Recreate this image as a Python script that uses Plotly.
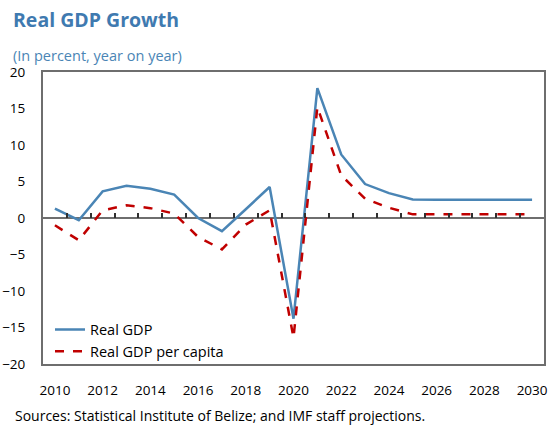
import plotly.graph_objects as go

years = list(range(2010, 2031))
real_gdp = [1.3, -0.3, 3.65, 4.4, 4.0, 3.2, 0.0, -1.8, 1.2, 4.25, -13.8, 17.8, 8.7,
            4.65, 3.4, 2.55, 2.5, 2.5, 2.5, 2.5, 2.5]
gdp_per_capita = [-1.0, -3.05, 1.05, 1.75, 1.35, 0.6, -2.6, -4.3, -0.9, 1.05, -16.4,
                  15.2, 5.85, 2.65, 1.4, 0.5, 0.5, 0.5, 0.5, 0.5, 0.5]
x_tick_labels = [str(y) for y in range(2010, 2031, 2)]
y_ticks = list(range(-20, 21, 5))

FONT = "Open Sans"
FRAME = "#6E6E6E"

fig = go.Figure()
# helper subplot whose bottom edge is the zero line: carries the category ticks
fig.add_trace(go.Scatter(x=[], y=[], xaxis="x2", yaxis="y2", showlegend=False,
                         hoverinfo="skip"))
fig.add_trace(go.Scatter(x=years, y=real_gdp, name="Real GDP", mode="lines",
                         line=dict(color="#4A85B5", width=2.5)))
fig.add_trace(go.Scatter(x=years, y=gdp_per_capita, name="Real GDP per capita", mode="lines",
                         line=dict(color="#C00000", width=2.5, dash="dash")))

fig.update_layout(
    width=549, height=428,
    margin=dict(l=43, r=5, t=72, b=64, autoexpand=False),
    paper_bgcolor="white", plot_bgcolor="rgba(0,0,0,0)",
    font=dict(family=FONT, size=13, color="black"),
    title=dict(text="<b>Real GDP Growth</b>", x=13/549, xanchor="left",
               xref="container", y=1 - 20/428, yanchor="middle", yref="container",
               font=dict(family=FONT, size=19.5, color="#3F7AB0"),
               subtitle=dict(text="(In percent, year on year)",
                             font=dict(family=FONT, size=14.5, color="#4A85B5"))),
    showlegend=True,
    legend=dict(x=7/501, y=-0.012, xanchor="left", yanchor="bottom",
                bgcolor="rgba(255,255,255,0)", font=dict(size=14.5),
                tracegroupgap=0, itemwidth=30),
    xaxis=dict(range=[2009.5, 2030.5], tickvals=[int(t) for t in x_tick_labels],
               ticktext=x_tick_labels, showgrid=False, zeroline=False,
               showline=True, mirror="all", linecolor=FRAME, linewidth=2,
               ticks="outside", ticklen=13, tickcolor="rgba(255,255,255,0)",
               tickfont=dict(size=13.5), automargin=False),
    yaxis=dict(range=[-20, 20], tickvals=y_ticks, showgrid=False,
               zeroline=True, zerolinecolor=FRAME, zerolinewidth=2,
               showline=True, mirror="all", linecolor=FRAME, linewidth=2,
               ticks="outside", ticklen=13, tickcolor="rgba(255,255,255,0)",
               tickfont=dict(size=13.5), automargin=False),
    xaxis2=dict(range=[2009.5, 2030.5], anchor="y2", domain=[0, 1],
                showgrid=False, zeroline=False, showline=False,
                ticks="inside", ticklen=5, tickcolor="#303030", tickwidth=2,
                tickvals=[y + 0.5 for y in years[:-1]], showticklabels=False,
                automargin=False),
    yaxis2=dict(domain=[0.5, 1], anchor="x2", range=[0, 1], visible=False),
)

fig.add_annotation(text="Sources: Statistical Institute of Belize; and IMF staff projections.",
                   xref="paper", yref="paper", x=-30/501, y=-51/292, xanchor="left",
                   yanchor="middle", showarrow=False,
                   font=dict(family=FONT, size=14, color="black"))

fig.write_html("out.html", config={"displayModeBar": False},
               post_script="document.body.style.margin='0';"
                           "document.body.style.overflow='hidden';")
